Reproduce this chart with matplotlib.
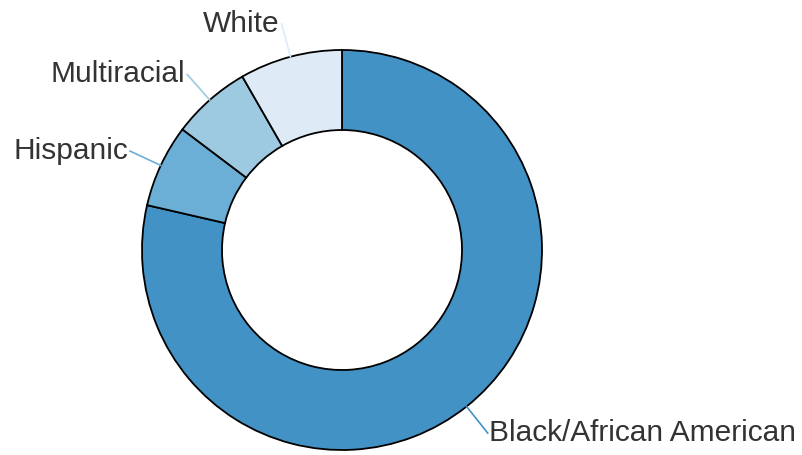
import numpy as np
import matplotlib
matplotlib.use("Agg")
import matplotlib.pyplot as plt

labels = ["Black/African American", "Hispanic", "Multiracial", "White"]
values = [78.6, 6.7, 6.4, 8.3]
colors = ["#4292c6", "#6baed6", "#9ecae1", "#deebf7"]

fig = plt.figure(figsize=(8.02, 4.55), dpi=100)
ax = fig.add_axes([0, 0, 1, 1])

cx, cy, r = 342, 205, 200
wedges, _ = ax.pie(values, colors=colors, startangle=90, counterclock=False,
                   radius=r, center=(cx, cy), frame=True,
                   wedgeprops=dict(width=80, edgecolor="black", linewidth=1.3))
ax.set_xlim(0, 802)
ax.set_ylim(0, 455)
ax.axis("off")

for w, lab, col in zip(wedges, labels, colors):
    ang = np.deg2rad((w.theta1 + w.theta2) / 2)
    x0, y0 = cx + r * np.cos(ang), cy + r * np.sin(ang)
    x1, y1 = cx + 234 * np.cos(ang), cy + 234 * np.sin(ang)
    ax.plot([x0, x1], [y0, y1], color=col, lw=1.2)
    ha = "left" if np.cos(ang) > 0 else "right"
    dx = 1 if ha == "left" else -2
    ax.text(x1 + dx, y1, lab, ha=ha, va="center", fontsize=21.5,
            family="Liberation Sans", color="#333333")

fig.savefig("out.png", dpi=100)
